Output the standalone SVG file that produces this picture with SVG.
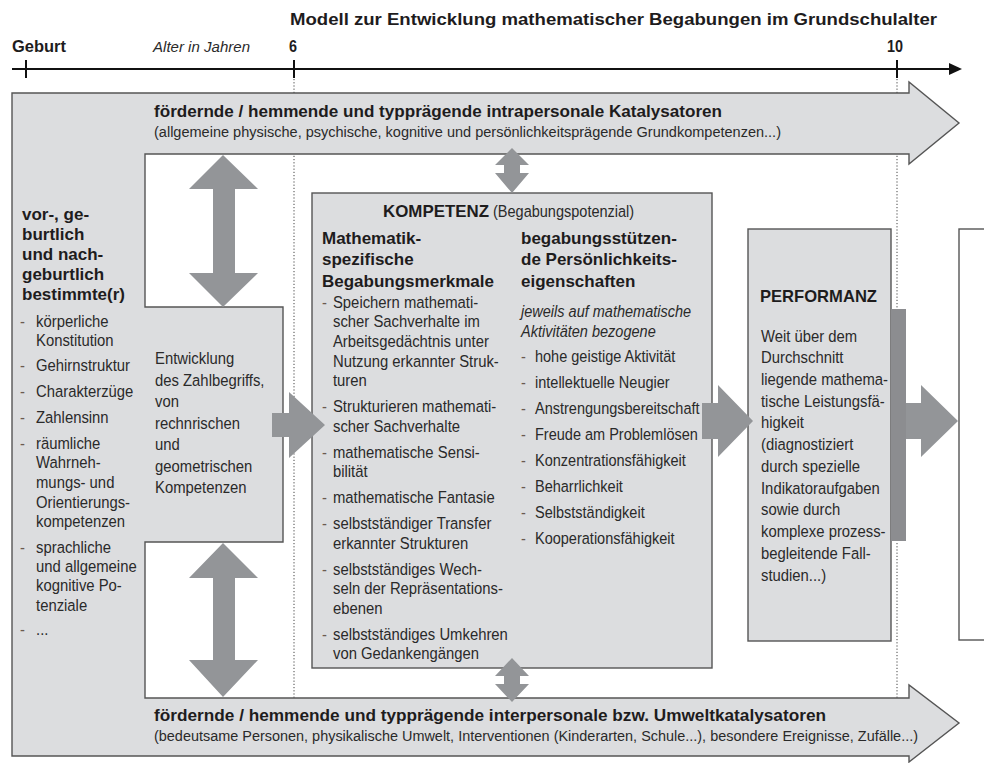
<svg xmlns="http://www.w3.org/2000/svg" width="984" height="763" viewBox="0 0 984 763">
<style>
text { font-family: "Liberation Sans", Arial, sans-serif; fill: #2a2a2a; }
.hb { font-weight: bold; fill: #1e1c1d; }
.cb { font-weight: bold; fill: #1e1c1d; }
.r { font-size: 16.5px; }
.it { font-style: italic; }
.h { font-size: 17px; font-weight: bold; fill: #1e1c1d; }
.d { fill: #6a5a50; }
.frame { fill: #dcdddf; stroke: #555; stroke-width: 1.4; }
.box { fill: #dcdddf; stroke: #555; stroke-width: 1.4; }
.arr { fill: #939598; }
.dot { stroke: #444; stroke-width: 1; stroke-dasharray: 1.2 2; fill: none; }
</style>
<rect width="984" height="763" fill="#fff"/>

<g id="timeline">
  <line x1="12" y1="69" x2="952" y2="69" stroke="#111" stroke-width="2"/>
  <polygon points="949,63 962,69 949,75" fill="#111"/>
  <line x1="26" y1="60" x2="26" y2="78" stroke="#111" stroke-width="2"/>
  <line x1="294" y1="60" x2="294" y2="78" stroke="#111" stroke-width="2"/>
  <line x1="897" y1="60" x2="897" y2="78" stroke="#111" stroke-width="2"/>
  <text class="cb" x="290" y="25" font-size="16" textLength="647" lengthAdjust="spacingAndGlyphs">Modell zur Entwicklung mathematischer Begabungen im Grundschulalter</text>
  <text class="cb" x="12" y="52" font-size="16" textLength="54" lengthAdjust="spacingAndGlyphs">Geburt</text>
  <text class="it" x="153" y="52" font-size="15" textLength="97" lengthAdjust="spacingAndGlyphs">Alter in Jahren</text>
  <text class="cb" x="289" y="52" font-size="16" textLength="8" lengthAdjust="spacingAndGlyphs">6</text>
  <text class="cb" x="887" y="52" font-size="16" textLength="16" lengthAdjust="spacingAndGlyphs">10</text>
  <line class="dot" x1="294" y1="79" x2="294" y2="698"/>
  <line class="dot" x1="897" y1="79" x2="897" y2="698"/>
</g>

<g id="frame">
  <path class="frame" d="M12,93 H909 V82 L959,123 L909,164 V154 H145 V307 H283 V542 H145 V698 H909 V685 L959,723 L909,762 V756 H12 Z"/>
</g>

<g id="intrapersonal">
  <text class="cb" x="154" y="117" font-size="17" textLength="568" lengthAdjust="spacingAndGlyphs">fördernde / hemmende und typprägende intrapersonale Katalysatoren</text>
  <text x="154" y="137" font-size="15.5" textLength="627" lengthAdjust="spacingAndGlyphs">(allgemeine physische, psychische, kognitive und persönlichkeitsprägende Grundkompetenzen...)</text>
</g>

<g id="interpersonal">
  <text class="cb" x="154" y="721" font-size="17" textLength="672" lengthAdjust="spacingAndGlyphs">fördernde / hemmende und typprägende interpersonale bzw. Umweltkatalysatoren</text>
  <text x="154" y="741" font-size="15.5" textLength="764" lengthAdjust="spacingAndGlyphs">(bedeutsame Personen, physikalische Umwelt, Interventionen (Kinderarten, Schule...), besondere Ereignisse, Zufälle...)</text>
</g>

<g id="anlagen">
  <text class="h" x="22" y="220">vor-, ge-</text>
  <text class="h" x="22" y="240">burtlich</text>
  <text class="h" x="22" y="260">und nach-</text>
  <text class="h" x="22" y="280">geburtlich</text>
  <text class="h" x="22" y="300">bestimmte(r)</text>
  <g transform="translate(20,0) scale(0.9,1)" class="r">
    <text class="d" x="0" y="327">-</text><text x="17.8" y="327">körperliche</text>
    <text x="17.8" y="346">Konstitution</text>
    <text class="d" x="0" y="371">-</text><text x="17.8" y="371">Gehirnstruktur</text>
    <text class="d" x="0" y="397">-</text><text x="17.8" y="397">Charakterzüge</text>
    <text class="d" x="0" y="423">-</text><text x="17.8" y="423">Zahlensinn</text>
    <text class="d" x="0" y="449">-</text><text x="17.8" y="449">räumliche</text>
    <text x="17.8" y="468">Wahrneh-</text>
    <text x="17.8" y="488">mungs- und</text>
    <text x="17.8" y="508">Orientierungs-</text>
    <text x="17.8" y="527">kompetenzen</text>
    <text class="d" x="0" y="553">-</text><text x="17.8" y="553">sprachliche</text>
    <text x="17.8" y="572">und allgemeine</text>
    <text x="17.8" y="591">kognitive Po-</text>
    <text x="17.8" y="611">tenziale</text>
    <text class="d" x="0" y="635">-</text><text x="17.8" y="635">...</text>
  </g>
</g>

<g id="entwicklung">
  <g transform="translate(155,0) scale(0.9,1)" class="r">
    <text x="0" y="364">Entwicklung</text>
    <text x="0" y="386">des Zahlbegriffs,</text>
    <text x="0" y="407">von</text>
    <text x="0" y="429">rechnrischen</text>
    <text x="0" y="450">und</text>
    <text x="0" y="472">geometrischen</text>
    <text x="0" y="493">Kompetenzen</text>
  </g>
</g>

<g id="kompetenz">
  <rect class="box" x="312" y="193" width="400" height="475"/>
  <text class="cb" x="383" y="217" font-size="17" textLength="106" lengthAdjust="spacingAndGlyphs">KOMPETENZ</text>
  <g transform="translate(493,0) scale(0.88,1)" class="r"><text x="0" y="217">(Begabungspotenzial)</text></g>
  <text class="h" x="322" y="244">Mathematik-</text>
  <text class="h" x="322" y="265">spezifische</text>
  <text class="h" x="322" y="287">Begabungsmerkmale</text>
  <text class="h" x="521" y="244">begabungsstützen-</text>
  <text class="h" x="521" y="265">de Persönlichkeits-</text>
  <text class="h" x="521" y="287">eigenschaften</text>
  <g transform="translate(322,0) scale(0.9,1)" class="r">
    <text class="d" x="0" y="308">-</text><text x="12.2" y="308">Speichern mathemati-</text>
    <text x="12.2" y="327">scher Sachverhalte im</text>
    <text x="12.2" y="347">Arbeitsgedächtnis unter</text>
    <text x="12.2" y="367">Nutzung erkannter Struk-</text>
    <text x="12.2" y="386">turen</text>
    <text class="d" x="0" y="412">-</text><text x="12.2" y="412">Strukturieren mathemati-</text>
    <text x="12.2" y="432">scher Sachverhalte</text>
    <text class="d" x="0" y="458">-</text><text x="12.2" y="458">mathematische Sensi-</text>
    <text x="12.2" y="477">bilität</text>
    <text class="d" x="0" y="503">-</text><text x="12.2" y="503">mathematische Fantasie</text>
    <text class="d" x="0" y="529">-</text><text x="12.2" y="529">selbstständiger Transfer</text>
    <text x="12.2" y="549">erkannter Strukturen</text>
    <text class="d" x="0" y="575">-</text><text x="12.2" y="575">selbstständiges Wech-</text>
    <text x="12.2" y="594">seln der Repräsentations-</text>
    <text x="12.2" y="614">ebenen</text>
    <text class="d" x="0" y="640">-</text><text x="12.2" y="640">selbstständiges Umkehren</text>
    <text x="12.2" y="659">von Gedankengängen</text>
  </g>
  <g transform="translate(521,0) scale(0.88,1)" class="r">
    <text class="it" x="0" y="317">jeweils auf mathematische</text>
    <text class="it" x="0" y="337">Aktivitäten bezogene</text>
    <text class="d" x="0" y="362">-</text><text x="15.9" y="362">hohe geistige Aktivität</text>
    <text class="d" x="0" y="388">-</text><text x="15.9" y="388">intellektuelle Neugier</text>
    <text class="d" x="0" y="414">-</text><text x="15.9" y="414">Anstrengungsbereitschaft</text>
    <text class="d" x="0" y="440">-</text><text x="15.9" y="440">Freude am Problemlösen</text>
    <text class="d" x="0" y="466">-</text><text x="15.9" y="466">Konzentrationsfähigkeit</text>
    <text class="d" x="0" y="492">-</text><text x="15.9" y="492">Beharrlichkeit</text>
    <text class="d" x="0" y="518">-</text><text x="15.9" y="518">Selbstständigkeit</text>
    <text class="d" x="0" y="544">-</text><text x="15.9" y="544">Kooperationsfähigkeit</text>
  </g>
</g>

<g id="performanz">
  <rect class="box" x="748" y="229" width="143" height="412"/>
  <text class="cb" x="760" y="302" font-size="17" textLength="117" lengthAdjust="spacingAndGlyphs">PERFORMANZ</text>
  <g transform="translate(761,0) scale(0.9,1)" class="r">
    <text x="0" y="342">Weit über dem</text>
    <text x="0" y="363">Durchschnitt</text>
    <text x="0" y="385">liegende mathema-</text>
    <text x="0" y="407">tische Leistungsfä-</text>
    <text x="0" y="428">higkeit</text>
    <text x="0" y="450">(diagnostiziert</text>
    <text x="0" y="472">durch spezielle</text>
    <text x="0" y="494">Indikatoraufgaben</text>
    <text x="0" y="515">sowie durch</text>
    <text x="0" y="537">komplexe prozess-</text>
    <text x="0" y="559">begleitende Fall-</text>
    <text x="0" y="581">studien...)</text>
  </g>
</g>

<g id="outcome">
  <rect x="959" y="229" width="40" height="411" fill="#fff" stroke="#555" stroke-width="1.4"/>
</g>

<g id="connectors">
  <polygon class="arr" points="223,155 258,189 235,189 235,273 258,273 223,307 189,273 213,273 213,189 189,189"/>
  <polygon class="arr" points="223,543 258,578 235,578 235,660 258,660 223,697 189,660 213,660 213,578 189,578"/>
  <polygon class="arr" points="512,148 529,165 520,165 520,173 529,173 512,193 495,173 504,173 504,165 495,165"/>
  <polygon class="arr" points="512,658 529,676 520,676 520,684 529,684 512,702 495,684 504,684 504,676 495,676"/>
  <polygon class="arr" points="272,413 289,413 289,392 325,425 289,458 289,437 272,437"/>
  <polygon class="arr" points="702,403 718,403 718,385 753,421 718,457 718,439 702,439"/>
  <rect x="891" y="309" width="15" height="232" fill="#8c8d90"/>
  <polygon class="arr" points="906,403 921,403 921,385 958,421 921,457 921,439 906,439"/>
</g>
</svg>
